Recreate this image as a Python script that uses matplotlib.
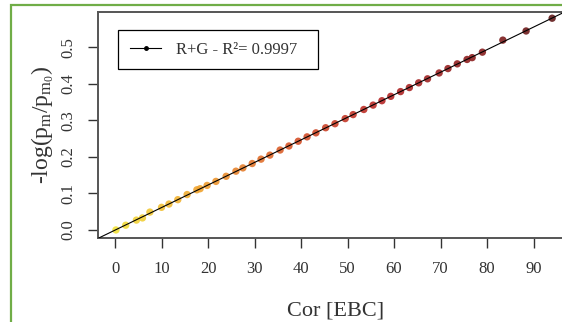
import numpy as np
import matplotlib
matplotlib.use('Agg')
import matplotlib.pyplot as plt
from matplotlib.colors import LinearSegmentedColormap
from matplotlib.lines import Line2D
from matplotlib.patches import Rectangle

# cor [EBC] vs -log(pm/pm0)
cor = [0.2, 2.3, 4.6, 5.9, 7.5, 10.0, 11.6, 13.5, 15.5, 17.6, 18.3, 19.8,
       21.7, 23.9, 26.0, 27.5, 29.5, 31.4, 33.3, 35.5, 37.4, 39.4, 41.3,
       43.2, 45.3, 47.3, 49.5, 51.2, 53.5, 55.5, 57.4, 59.3, 61.4, 63.3,
       65.3, 67.2, 69.7, 71.6, 73.6, 75.7, 76.8, 79.0, 83.4, 88.4, 94.0]
logp = [0.000, 0.013, 0.027, 0.033, 0.049, 0.062, 0.071, 0.083, 0.097,
        0.110, 0.113, 0.122, 0.133, 0.147, 0.161, 0.170, 0.182, 0.194,
        0.205, 0.219, 0.230, 0.243, 0.255, 0.266, 0.280, 0.291, 0.305,
        0.316, 0.330, 0.342, 0.354, 0.366, 0.379, 0.390, 0.403, 0.414,
        0.430, 0.442, 0.455, 0.467, 0.472, 0.487, 0.520, 0.545, 0.580]
legend_label = 'R+G - R²= 0.9997'

plt.rcParams['font.family'] = ['Liberation Serif', 'DejaVu Serif']
plt.rcParams['mathtext.fontset'] = 'custom'
plt.rcParams['mathtext.rm'] = 'Liberation Serif'
plt.rcParams['mathtext.it'] = 'Liberation Serif:italic'

fig = plt.figure(figsize=(5.62, 3.22), dpi=100)
W, H = 562, 322

# green frame around the figure
fig.patches.append(Rectangle((11 / W, -0.1), 1.2, (H - 5) / H + 0.1,
                             transform=fig.transFigure, fill=False,
                             edgecolor='#70ad47', linewidth=1.6))

ax = fig.add_axes([98 / W, (H - 238) / H, 476 / W, 226 / H])

cmap = LinearSegmentedColormap.from_list(
    'cor', ['#f2e23a', '#f0a030', '#d8552a', '#b82828', '#8e2020', '#601a1a'])
x = np.array(cor)
y = np.array(logp)
ax.scatter(x, y, c=x, cmap=cmap, vmin=0, vmax=95, s=28, marker='o',
           edgecolors='none', alpha=0.9, zorder=2)

m, b = np.polyfit(x, y, 1)
ax.axline((0, b), slope=m, color='black', linewidth=0.8, zorder=3)

ax.set_xlim(-3.66, 98.7)
ax.set_ylim(-0.022, 0.597)
ax.set_xticks(np.arange(0, 100, 10))
ax.set_yticks(np.arange(0, 0.6, 0.1))
ax.set_yticklabels([f'{v:.1f}' for v in np.arange(0, 0.6, 0.1)],
                   rotation=90, va='center')
ax.tick_params(direction='out', length=7.5, width=1, colors='#333333',
               labelcolor='#333333', labelsize=12)
ax.tick_params(axis='x', pad=9)
ax.tick_params(axis='y', pad=8)
for s in ax.spines.values():
    s.set_color('#555555')
    s.set_linewidth(1.4)

ax.set_xlabel('Cor [EBC]', fontsize=16, color='#333333', labelpad=18)
ax.set_ylabel(r'-log$(\mathrm{p_m/p_{m_0}})$', fontsize=17,
              color='#333333', labelpad=3)

handle = Line2D([], [], color='black', linewidth=0.8, marker='o',
                markersize=2.5)
leg = ax.legend([handle], [legend_label + '  '], loc='upper left',
                bbox_to_anchor=(20 / 476, 1 - 18 / 226), fontsize=12,
                fancybox=False, framealpha=1, edgecolor='black',
                borderpad=0.7, handlelength=1.9, handletextpad=0.9,
                borderaxespad=0)
leg.get_frame().set_linewidth(0.9)
for t in leg.get_texts():
    t.set_color('#333333')

fig.savefig('out.png', dpi=100)
